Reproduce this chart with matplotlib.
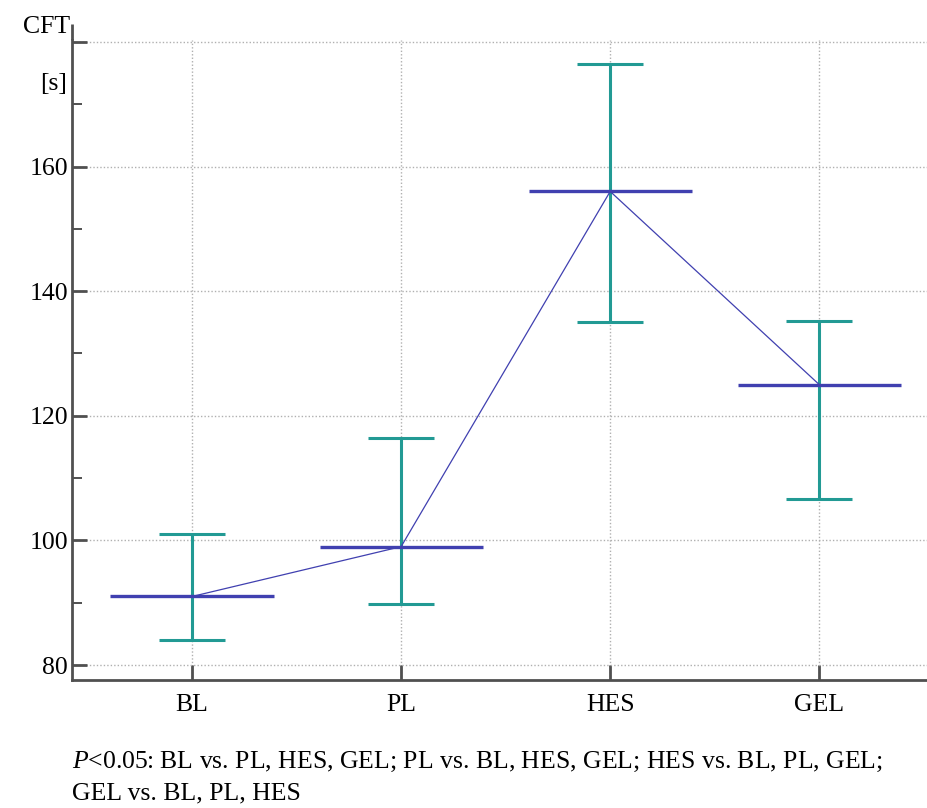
import numpy as np
import matplotlib
matplotlib.use('Agg')
import matplotlib.pyplot as plt
from matplotlib.ticker import MultipleLocator

# CFT per time point: mean and error range
categories = ['BL', 'PL', 'HES', 'GEL']
means = [91, 99, 156, 125]
upper = [101, 116.5, 176.5, 135.2]
lower = [84, 89.8, 135, 106.6]

plt.rcParams['font.family'] = ['Liberation Serif', 'DejaVu Serif']
plt.rcParams['mathtext.fontset'] = 'custom'
plt.rcParams['mathtext.rm'] = 'Liberation Serif'
plt.rcParams['mathtext.it'] = 'Liberation Serif:italic'

teal = '#229a94'
blue = '#4040b0'
axcol = '#505050'
fs = 18.5

fig = plt.figure(figsize=(9.28, 8.08), dpi=100)
ax = fig.add_axes([72/928, 1 - 680/808, 1 - 72/928, 640/808])

x = np.arange(len(categories))
m = np.array(means)
yerr = [m - np.array(lower), np.array(upper) - m]

ax.errorbar(x, m, yerr=yerr, fmt='none', ecolor=teal, elinewidth=2.2,
            capsize=23.5, capthick=2.2, zorder=3)
ax.hlines(m, x - 0.39, x + 0.39, color=blue, lw=2.4, zorder=4)
ax.plot(x, m, color=blue, lw=0.9, zorder=4)

ax.set_xlim(-0.574, 3.52)
ax.set_ylim(77.6, 180.3)
ax.set_xticks(x)
ax.set_xticklabels(categories)
ax.yaxis.set_minor_locator(MultipleLocator(10))
ax.set_yticks([80, 100, 120, 140, 160, 180])
ax.set_yticklabels(['80', '100', '120', '140', '160', ''])

ax.grid(True, which='major', ls=(0, (1, 1.5)), color='#b0b0b0', lw=1.0)
ax.tick_params(axis='both', which='major', direction='in', length=11,
               width=2, color=axcol, labelsize=fs)
ax.tick_params(axis='x', pad=10)
ax.tick_params(axis='y', pad=3)
ax.tick_params(axis='y', which='minor', direction='in', length=7,
               width=1.4, color=axcol)
ax.tick_params(axis='x', which='minor', length=0)

for s in ['top', 'right']:
    ax.spines[s].set_visible(False)
for s in ['left', 'bottom']:
    ax.spines[s].set_color(axcol)
    ax.spines[s].set_linewidth(2)
# left spine runs a little above the plot area
ax.plot([0, 0], [1, 1.025], transform=ax.transAxes, color=axcol, lw=2,
        clip_on=False, solid_capstyle='butt')

fig.text(70/928, 1 - 27/808, 'CFT', ha='right', va='center', fontsize=fs)
fig.text(67/928, 1 - 84/808, '[s]', ha='right', va='center', fontsize=fs)

fig.text(72/928, 1 - 762/808,
         '$P$<0.05: BL vs. PL, HES, GEL; PL vs. BL, HES, GEL; HES vs. BL, PL, GEL;',
         ha='left', va='center', fontsize=fs)
fig.text(72/928, 1 - 793/808, 'GEL vs. BL, PL, HES',
         ha='left', va='center', fontsize=fs)

fig.savefig('out.png', dpi=100)
